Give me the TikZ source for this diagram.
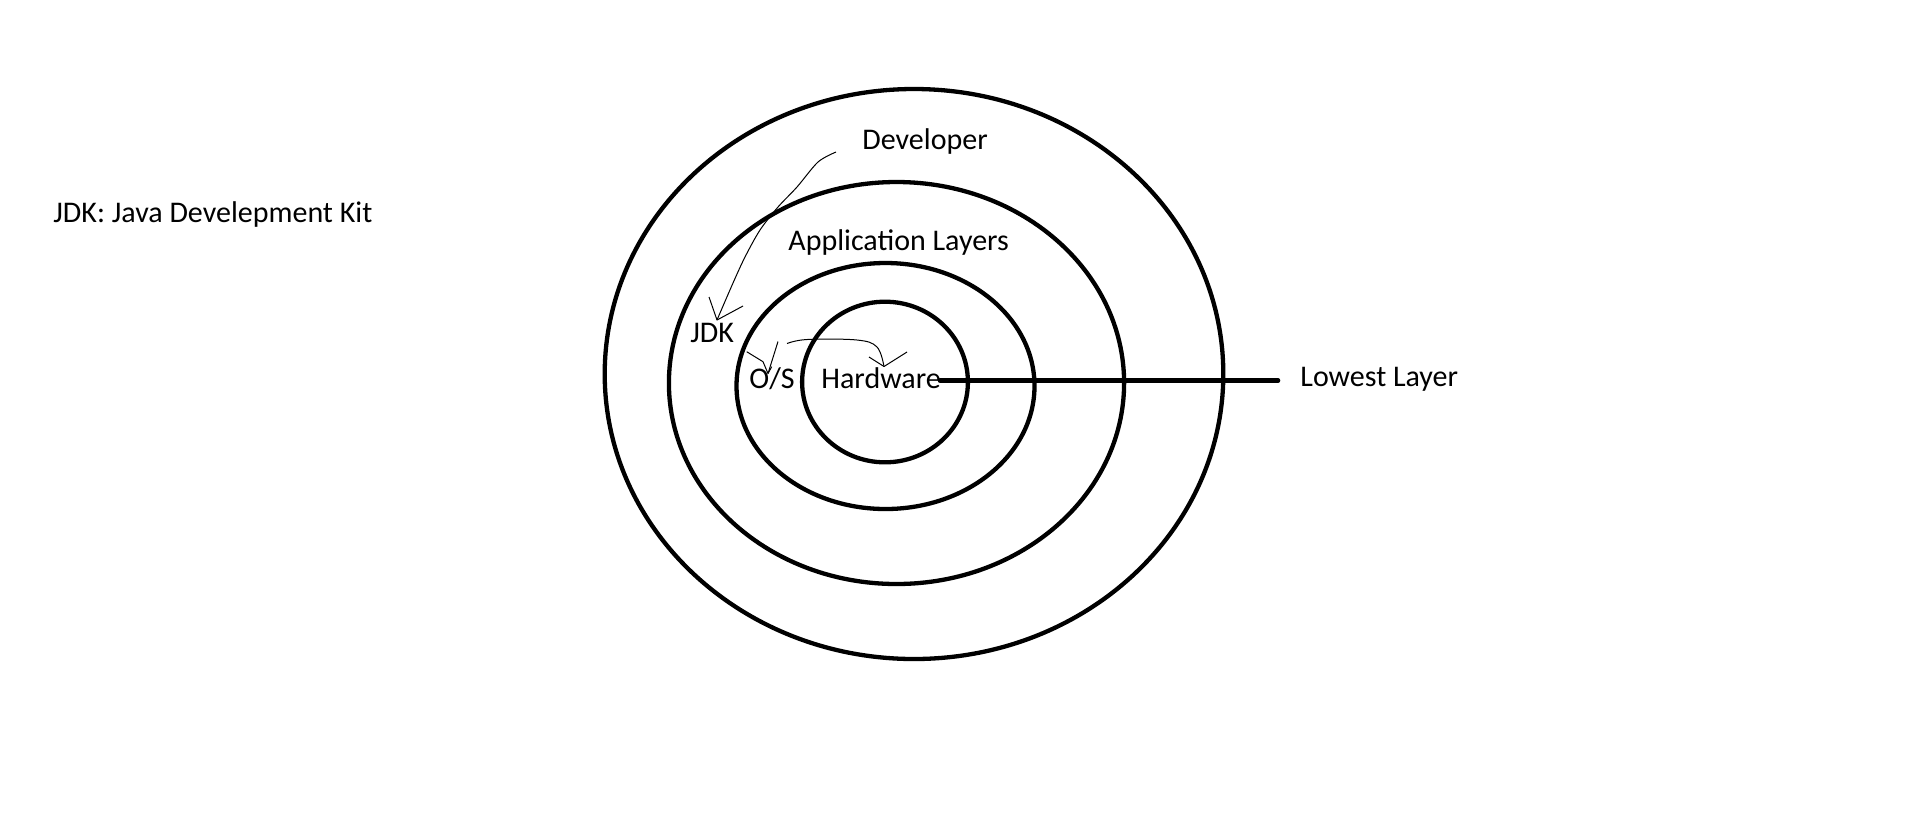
\documentclass[tikz,border=0pt]{standalone}
\usepackage{fontspec}
\setmainfont{Carlito}
\begin{document}
\begin{tikzpicture}[x=0.5pt,y=-0.5pt,
  ring/.style={line width=2.15pt, black},
  bar/.style={line width=2.3pt, black, line cap=round},
  pen/.style={line width=0.5pt, black, line join=round},
  lbl/.style={anchor=base west, inner sep=0pt, font=\fontsize{15}{18}\selectfont, text=black}]
\useasboundingbox[fill=white] (0,0) rectangle (1914,837);

% layered rings
\draw[ring] (914,374) ellipse [x radius=309.3, y radius=285];
\draw[ring] (896.5,383) ellipse [x radius=227.6, y radius=201];
\draw[ring] (885.5,386) ellipse [x radius=149, y radius=123];
\draw[ring] (885,382) ellipse [x radius=82.9, y radius=80.3];

% labels
\node[lbl] (legend) at (53,222) {JDK: Java Develepment Kit};
\node[lbl] (dev) at (862,149) {Developer};
\node[lbl] (app) at (788,250) {Application Layers};
\node[lbl] (jdk) at (690,342) {JDK};
\node[lbl] (os) at (749,388) {O/S};
\node[lbl] (hw) at (821,388) {Hardware};
\node[lbl] (low) at (1300,386) {Lowest Layer};

% lowest layer pointer
\coordinate (ls) at (940,380.5);
\coordinate (le) at (1278,380.5);
\draw[bar] (ls) -- (le);

% Developer -> JDK
\coordinate (d0) at (836,152);
\coordinate (d1) at (717,320);
\draw[pen] plot[smooth, tension=0.5] coordinates {(d0) (818,162) (797,187) (778,207) (760,230) (745,257) (733,283) (d1)};
\draw[pen] (709,297) -- (d1) -- (743,306);

% -> O/S
\coordinate (o0) at (778,341.5);
\coordinate (o1) at (768,373.5);
\draw[pen] (o0) -- (o1);
\draw[pen] (746.7,351.7) -- (763,361.7) -- (o1) -- (771.7,366.7);

% -> Hardware
\coordinate (h0) at (787,343.5);
\coordinate (h1) at (884,366.5);
\draw[pen] plot[smooth, tension=0.6] coordinates {(h0) (807,339.5) (857,340) (877,347) (h1)};
\draw[pen] (869,357) -- (h1) -- (907,352);
\end{tikzpicture}
\end{document}
